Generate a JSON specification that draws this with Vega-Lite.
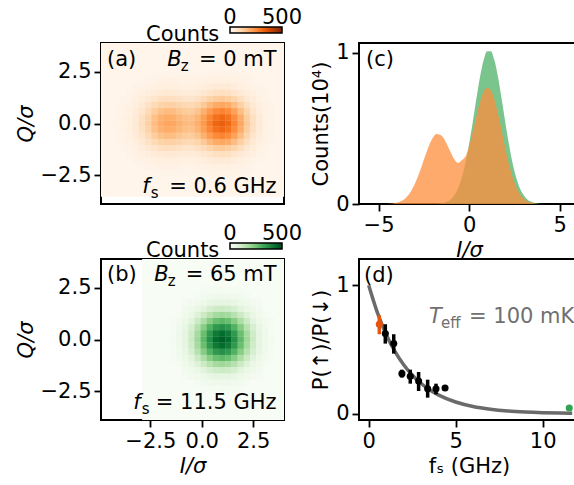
{
"$schema": "https://vega.github.io/schema/vega-lite/v6.json",
"background": "white",
"padding": {"left": 14, "top": 26, "right": 0, "bottom": 0},
"autosize": {"type": "pad"},
"config": {
  "font": "DejaVu Sans",
  "view": {"stroke": "black", "strokeWidth": 2},
  "axis": {"domain": false, "grid": false, "tickColor": "black", "tickWidth": 1.8, "tickSize": 7, "labelFontSize": 21, "titleFontSize": 21, "titleFontWeight": "normal", "labelColor": "black", "titleColor": "black", "labelPadding": 3, "titlePadding": 4, "labelFlush": false, "labelOverlap": false},
  "text": {"fontSize": 21, "color": "black"}
},
"datasets": {
"ha": [
{"i":-4.1,"q":0,"c":6},{"i":-3.8,"q":0,"c":13},{"i":-3.5,"q":0,"c":27},{"i":-3.2,"q":0,"c":50},{"i":-2.9,"q":0,"c":82},{"i":-2.6,"q":0,"c":121},{"i":-2.3,"q":0,"c":160},{"i":-2,"q":0,"c":190},{"i":-1.7,"q":0,"c":204},{"i":-1.4,"q":0,"c":199},{"i":-1.1,"q":0,"c":182},{"i":-0.8,"q":0,"c":166},{"i":-0.5,"q":0,"c":164},{"i":-0.2,"q":0,"c":186},{"i":0.1,"q":0,"c":227},{"i":0.4,"q":0,"c":277},{"i":0.7,"q":0,"c":318},{"i":1,"q":0,"c":332},{"i":1.3,"q":0,"c":313},{"i":1.6,"q":0,"c":264},{"i":1.9,"q":0,"c":200},{"i":2.2,"q":0,"c":136},{"i":2.5,"q":0,"c":82},{"i":2.8,"q":0,"c":45},{"i":3.1,"q":0,"c":22},{"i":3.4,"q":0,"c":10},
{"i":-4.1,"q":0.3,"c":5},{"i":-3.8,"q":0.3,"c":12},{"i":-3.5,"q":0.3,"c":26},{"i":-3.2,"q":0.3,"c":47},{"i":-2.9,"q":0.3,"c":78},{"i":-2.6,"q":0.3,"c":115},{"i":-2.3,"q":0.3,"c":151},{"i":-2,"q":0.3,"c":180},{"i":-1.7,"q":0.3,"c":193},{"i":-1.4,"q":0.3,"c":188},{"i":-1.1,"q":0.3,"c":172},{"i":-0.8,"q":0.3,"c":157},{"i":-0.5,"q":0.3,"c":156},{"i":-0.2,"q":0.3,"c":175},{"i":0.1,"q":0.3,"c":215},{"i":0.4,"q":0.3,"c":262},{"i":0.7,"q":0.3,"c":300},{"i":1,"q":0.3,"c":314},{"i":1.3,"q":0.3,"c":296},{"i":1.6,"q":0.3,"c":250},{"i":1.9,"q":0.3,"c":189},{"i":2.2,"q":0.3,"c":128},{"i":2.5,"q":0.3,"c":78},{"i":2.8,"q":0.3,"c":42},{"i":3.1,"q":0.3,"c":20},{"i":3.4,"q":0.3,"c":9},
{"i":-4.1,"q":-0.3,"c":5},{"i":-3.8,"q":-0.3,"c":12},{"i":-3.5,"q":-0.3,"c":26},{"i":-3.2,"q":-0.3,"c":47},{"i":-2.9,"q":-0.3,"c":78},{"i":-2.6,"q":-0.3,"c":115},{"i":-2.3,"q":-0.3,"c":151},{"i":-2,"q":-0.3,"c":180},{"i":-1.7,"q":-0.3,"c":193},{"i":-1.4,"q":-0.3,"c":188},{"i":-1.1,"q":-0.3,"c":172},{"i":-0.8,"q":-0.3,"c":157},{"i":-0.5,"q":-0.3,"c":156},{"i":-0.2,"q":-0.3,"c":175},{"i":0.1,"q":-0.3,"c":215},{"i":0.4,"q":-0.3,"c":262},{"i":0.7,"q":-0.3,"c":300},{"i":1,"q":-0.3,"c":314},{"i":1.3,"q":-0.3,"c":296},{"i":1.6,"q":-0.3,"c":250},{"i":1.9,"q":-0.3,"c":189},{"i":2.2,"q":-0.3,"c":128},{"i":2.5,"q":-0.3,"c":78},{"i":2.8,"q":-0.3,"c":42},{"i":3.1,"q":-0.3,"c":20},{"i":3.4,"q":-0.3,"c":9},
{"i":-4.1,"q":0.6,"c":5},{"i":-3.8,"q":0.6,"c":11},{"i":-3.5,"q":0.6,"c":22},{"i":-3.2,"q":0.6,"c":40},{"i":-2.9,"q":0.6,"c":66},{"i":-2.6,"q":0.6,"c":97},{"i":-2.3,"q":0.6,"c":128},{"i":-2,"q":0.6,"c":152},{"i":-1.7,"q":0.6,"c":163},{"i":-1.4,"q":0.6,"c":159},{"i":-1.1,"q":0.6,"c":146},{"i":-0.8,"q":0.6,"c":133},{"i":-0.5,"q":0.6,"c":132},{"i":-0.2,"q":0.6,"c":149},{"i":0.1,"q":0.6,"c":182},{"i":0.4,"q":0.6,"c":223},{"i":0.7,"q":0.6,"c":255},{"i":1,"q":0.6,"c":266},{"i":1.3,"q":0.6,"c":250},{"i":1.6,"q":0.6,"c":212},{"i":1.9,"q":0.6,"c":160},{"i":2.2,"q":0.6,"c":109},{"i":2.5,"q":0.6,"c":66},{"i":2.8,"q":0.6,"c":36},{"i":3.1,"q":0.6,"c":17},{"i":3.4,"q":0.6,"c":8},
{"i":-4.1,"q":-0.6,"c":5},{"i":-3.8,"q":-0.6,"c":11},{"i":-3.5,"q":-0.6,"c":22},{"i":-3.2,"q":-0.6,"c":40},{"i":-2.9,"q":-0.6,"c":66},{"i":-2.6,"q":-0.6,"c":97},{"i":-2.3,"q":-0.6,"c":128},{"i":-2,"q":-0.6,"c":152},{"i":-1.7,"q":-0.6,"c":163},{"i":-1.4,"q":-0.6,"c":159},{"i":-1.1,"q":-0.6,"c":146},{"i":-0.8,"q":-0.6,"c":133},{"i":-0.5,"q":-0.6,"c":132},{"i":-0.2,"q":-0.6,"c":149},{"i":0.1,"q":-0.6,"c":182},{"i":0.4,"q":-0.6,"c":223},{"i":0.7,"q":-0.6,"c":255},{"i":1,"q":-0.6,"c":266},{"i":1.3,"q":-0.6,"c":250},{"i":1.6,"q":-0.6,"c":212},{"i":1.9,"q":-0.6,"c":160},{"i":2.2,"q":-0.6,"c":109},{"i":2.5,"q":-0.6,"c":66},{"i":2.8,"q":-0.6,"c":36},{"i":3.1,"q":-0.6,"c":17},{"i":3.4,"q":-0.6,"c":8},
{"i":-4.1,"q":0.9,"c":3},{"i":-3.8,"q":0.9,"c":8},{"i":-3.5,"q":0.9,"c":16},{"i":-3.2,"q":0.9,"c":30},{"i":-2.9,"q":0.9,"c":50},{"i":-2.6,"q":0.9,"c":74},{"i":-2.3,"q":0.9,"c":97},{"i":-2,"q":0.9,"c":116},{"i":-1.7,"q":0.9,"c":123},{"i":-1.4,"q":0.9,"c":121},{"i":-1.1,"q":0.9,"c":110},{"i":-0.8,"q":0.9,"c":101},{"i":-0.5,"q":0.9,"c":100},{"i":-0.2,"q":0.9,"c":112},{"i":0.1,"q":0.9,"c":137},{"i":0.4,"q":0.9,"c":168},{"i":0.7,"q":0.9,"c":192},{"i":1,"q":0.9,"c":201},{"i":1.3,"q":0.9,"c":189},{"i":1.6,"q":0.9,"c":160},{"i":1.9,"q":0.9,"c":121},{"i":2.2,"q":0.9,"c":82},{"i":2.5,"q":0.9,"c":50},{"i":2.8,"q":0.9,"c":27},{"i":3.1,"q":0.9,"c":13},{"i":3.4,"q":0.9,"c":6},
{"i":-4.1,"q":-0.9,"c":3},{"i":-3.8,"q":-0.9,"c":8},{"i":-3.5,"q":-0.9,"c":16},{"i":-3.2,"q":-0.9,"c":30},{"i":-2.9,"q":-0.9,"c":50},{"i":-2.6,"q":-0.9,"c":74},{"i":-2.3,"q":-0.9,"c":97},{"i":-2,"q":-0.9,"c":116},{"i":-1.7,"q":-0.9,"c":123},{"i":-1.4,"q":-0.9,"c":121},{"i":-1.1,"q":-0.9,"c":110},{"i":-0.8,"q":-0.9,"c":101},{"i":-0.5,"q":-0.9,"c":100},{"i":-0.2,"q":-0.9,"c":112},{"i":0.1,"q":-0.9,"c":137},{"i":0.4,"q":-0.9,"c":168},{"i":0.7,"q":-0.9,"c":192},{"i":1,"q":-0.9,"c":201},{"i":1.3,"q":-0.9,"c":189},{"i":1.6,"q":-0.9,"c":160},{"i":1.9,"q":-0.9,"c":121},{"i":2.2,"q":-0.9,"c":82},{"i":2.5,"q":-0.9,"c":50},{"i":2.8,"q":-0.9,"c":27},{"i":3.1,"q":-0.9,"c":13},{"i":3.4,"q":-0.9,"c":6},
{"i":-3.8,"q":1.2,"c":5},{"i":-3.5,"q":1.2,"c":11},{"i":-3.2,"q":1.2,"c":20},{"i":-2.9,"q":1.2,"c":34},{"i":-2.6,"q":1.2,"c":50},{"i":-2.3,"q":1.2,"c":66},{"i":-2,"q":1.2,"c":78},{"i":-1.7,"q":1.2,"c":84},{"i":-1.4,"q":1.2,"c":82},{"i":-1.1,"q":1.2,"c":75},{"i":-0.8,"q":1.2,"c":68},{"i":-0.5,"q":1.2,"c":68},{"i":-0.2,"q":1.2,"c":76},{"i":0.1,"q":1.2,"c":93},{"i":0.4,"q":1.2,"c":114},{"i":0.7,"q":1.2,"c":130},{"i":1,"q":1.2,"c":136},{"i":1.3,"q":1.2,"c":128},{"i":1.6,"q":1.2,"c":109},{"i":1.9,"q":1.2,"c":82},{"i":2.2,"q":1.2,"c":56},{"i":2.5,"q":1.2,"c":34},{"i":2.8,"q":1.2,"c":18},{"i":3.1,"q":1.2,"c":9},
{"i":-3.8,"q":-1.2,"c":5},{"i":-3.5,"q":-1.2,"c":11},{"i":-3.2,"q":-1.2,"c":20},{"i":-2.9,"q":-1.2,"c":34},{"i":-2.6,"q":-1.2,"c":50},{"i":-2.3,"q":-1.2,"c":66},{"i":-2,"q":-1.2,"c":78},{"i":-1.7,"q":-1.2,"c":84},{"i":-1.4,"q":-1.2,"c":82},{"i":-1.1,"q":-1.2,"c":75},{"i":-0.8,"q":-1.2,"c":68},{"i":-0.5,"q":-1.2,"c":68},{"i":-0.2,"q":-1.2,"c":76},{"i":0.1,"q":-1.2,"c":93},{"i":0.4,"q":-1.2,"c":114},{"i":0.7,"q":-1.2,"c":130},{"i":1,"q":-1.2,"c":136},{"i":1.3,"q":-1.2,"c":128},{"i":1.6,"q":-1.2,"c":109},{"i":1.9,"q":-1.2,"c":82},{"i":2.2,"q":-1.2,"c":56},{"i":2.5,"q":-1.2,"c":34},{"i":2.8,"q":-1.2,"c":18},{"i":3.1,"q":-1.2,"c":9},
{"i":-3.5,"q":1.5,"c":7},{"i":-3.2,"q":1.5,"c":12},{"i":-2.9,"q":1.5,"c":20},{"i":-2.6,"q":1.5,"c":30},{"i":-2.3,"q":1.5,"c":40},{"i":-2,"q":1.5,"c":47},{"i":-1.7,"q":1.5,"c":51},{"i":-1.4,"q":1.5,"c":49},{"i":-1.1,"q":1.5,"c":45},{"i":-0.8,"q":1.5,"c":41},{"i":-0.5,"q":1.5,"c":40},{"i":-0.2,"q":1.5,"c":46},{"i":0.1,"q":1.5,"c":57},{"i":0.4,"q":1.5,"c":69},{"i":0.7,"q":1.5,"c":79},{"i":1,"q":1.5,"c":82},{"i":1.3,"q":1.5,"c":78},{"i":1.6,"q":1.5,"c":66},{"i":1.9,"q":1.5,"c":50},{"i":2.2,"q":1.5,"c":34},{"i":2.5,"q":1.5,"c":20},{"i":2.8,"q":1.5,"c":11},{"i":3.1,"q":1.5,"c":5},
{"i":-3.5,"q":-1.5,"c":7},{"i":-3.2,"q":-1.5,"c":12},{"i":-2.9,"q":-1.5,"c":20},{"i":-2.6,"q":-1.5,"c":30},{"i":-2.3,"q":-1.5,"c":40},{"i":-2,"q":-1.5,"c":47},{"i":-1.7,"q":-1.5,"c":51},{"i":-1.4,"q":-1.5,"c":49},{"i":-1.1,"q":-1.5,"c":45},{"i":-0.8,"q":-1.5,"c":41},{"i":-0.5,"q":-1.5,"c":40},{"i":-0.2,"q":-1.5,"c":46},{"i":0.1,"q":-1.5,"c":57},{"i":0.4,"q":-1.5,"c":69},{"i":0.7,"q":-1.5,"c":79},{"i":1,"q":-1.5,"c":82},{"i":1.3,"q":-1.5,"c":78},{"i":1.6,"q":-1.5,"c":66},{"i":1.9,"q":-1.5,"c":50},{"i":2.2,"q":-1.5,"c":34},{"i":2.5,"q":-1.5,"c":20},{"i":2.8,"q":-1.5,"c":11},{"i":3.1,"q":-1.5,"c":5},
{"i":-3.2,"q":1.8,"c":7},{"i":-2.9,"q":1.8,"c":11},{"i":-2.6,"q":1.8,"c":16},{"i":-2.3,"q":1.8,"c":22},{"i":-2,"q":1.8,"c":26},{"i":-1.7,"q":1.8,"c":27},{"i":-1.4,"q":1.8,"c":27},{"i":-1.1,"q":1.8,"c":25},{"i":-0.8,"q":1.8,"c":22},{"i":-0.5,"q":1.8,"c":22},{"i":-0.2,"q":1.8,"c":25},{"i":0.1,"q":1.8,"c":31},{"i":0.4,"q":1.8,"c":38},{"i":0.7,"q":1.8,"c":43},{"i":1,"q":1.8,"c":45},{"i":1.3,"q":1.8,"c":42},{"i":1.6,"q":1.8,"c":36},{"i":1.9,"q":1.8,"c":27},{"i":2.2,"q":1.8,"c":18},{"i":2.5,"q":1.8,"c":11},{"i":2.8,"q":1.8,"c":6},
{"i":-3.2,"q":-1.8,"c":7},{"i":-2.9,"q":-1.8,"c":11},{"i":-2.6,"q":-1.8,"c":16},{"i":-2.3,"q":-1.8,"c":22},{"i":-2,"q":-1.8,"c":26},{"i":-1.7,"q":-1.8,"c":27},{"i":-1.4,"q":-1.8,"c":27},{"i":-1.1,"q":-1.8,"c":25},{"i":-0.8,"q":-1.8,"c":22},{"i":-0.5,"q":-1.8,"c":22},{"i":-0.2,"q":-1.8,"c":25},{"i":0.1,"q":-1.8,"c":31},{"i":0.4,"q":-1.8,"c":38},{"i":0.7,"q":-1.8,"c":43},{"i":1,"q":-1.8,"c":45},{"i":1.3,"q":-1.8,"c":42},{"i":1.6,"q":-1.8,"c":36},{"i":1.9,"q":-1.8,"c":27},{"i":2.2,"q":-1.8,"c":18},{"i":2.5,"q":-1.8,"c":11},{"i":2.8,"q":-1.8,"c":6},
{"i":-2.9,"q":2.1,"c":5},{"i":-2.6,"q":2.1,"c":8},{"i":-2.3,"q":2.1,"c":11},{"i":-2,"q":2.1,"c":12},{"i":-1.7,"q":2.1,"c":13},{"i":-1.4,"q":2.1,"c":13},{"i":-1.1,"q":2.1,"c":12},{"i":-0.8,"q":2.1,"c":11},{"i":-0.5,"q":2.1,"c":10},{"i":-0.2,"q":2.1,"c":12},{"i":0.1,"q":2.1,"c":15},{"i":0.4,"q":2.1,"c":18},{"i":0.7,"q":2.1,"c":21},{"i":1,"q":2.1,"c":22},{"i":1.3,"q":2.1,"c":20},{"i":1.6,"q":2.1,"c":17},{"i":1.9,"q":2.1,"c":13},{"i":2.2,"q":2.1,"c":9},{"i":2.5,"q":2.1,"c":5},
{"i":-2.9,"q":-2.1,"c":5},{"i":-2.6,"q":-2.1,"c":8},{"i":-2.3,"q":-2.1,"c":11},{"i":-2,"q":-2.1,"c":12},{"i":-1.7,"q":-2.1,"c":13},{"i":-1.4,"q":-2.1,"c":13},{"i":-1.1,"q":-2.1,"c":12},{"i":-0.8,"q":-2.1,"c":11},{"i":-0.5,"q":-2.1,"c":10},{"i":-0.2,"q":-2.1,"c":12},{"i":0.1,"q":-2.1,"c":15},{"i":0.4,"q":-2.1,"c":18},{"i":0.7,"q":-2.1,"c":21},{"i":1,"q":-2.1,"c":22},{"i":1.3,"q":-2.1,"c":20},{"i":1.6,"q":-2.1,"c":17},{"i":1.9,"q":-2.1,"c":13},{"i":2.2,"q":-2.1,"c":9},{"i":2.5,"q":-2.1,"c":5},
{"i":-2.3,"q":2.4,"c":5},{"i":-2,"q":2.4,"c":5},{"i":-1.7,"q":2.4,"c":6},{"i":-1.4,"q":2.4,"c":5},{"i":-1.1,"q":2.4,"c":5},{"i":-0.8,"q":2.4,"c":4},{"i":-0.5,"q":2.4,"c":4},{"i":-0.2,"q":2.4,"c":5},{"i":0.1,"q":2.4,"c":6},{"i":0.4,"q":2.4,"c":8},{"i":0.7,"q":2.4,"c":9},{"i":1,"q":2.4,"c":10},{"i":1.3,"q":2.4,"c":9},{"i":1.6,"q":2.4,"c":8},{"i":1.9,"q":2.4,"c":6},{"i":2.2,"q":2.4,"c":5},
{"i":-2.3,"q":-2.4,"c":5},{"i":-2,"q":-2.4,"c":5},{"i":-1.7,"q":-2.4,"c":6},{"i":-1.4,"q":-2.4,"c":5},{"i":-1.1,"q":-2.4,"c":5},{"i":-0.8,"q":-2.4,"c":4},{"i":-0.5,"q":-2.4,"c":4},{"i":-0.2,"q":-2.4,"c":5},{"i":0.1,"q":-2.4,"c":6},{"i":0.4,"q":-2.4,"c":8},{"i":0.7,"q":-2.4,"c":9},{"i":1,"q":-2.4,"c":10},{"i":1.3,"q":-2.4,"c":9},{"i":1.6,"q":-2.4,"c":8},{"i":1.9,"q":-2.4,"c":6},{"i":2.2,"q":-2.4,"c":5}
],
"hb": [
{"i":-1.4,"q":0,"c":13},{"i":-1.1,"q":0,"c":30},{"i":-0.8,"q":0,"c":62},{"i":-0.5,"q":0,"c":115},{"i":-0.2,"q":0,"c":189},{"i":0.1,"q":0,"c":279},{"i":0.4,"q":0,"c":368},{"i":0.7,"q":0,"c":435},{"i":1,"q":0,"c":460},{"i":1.3,"q":0,"c":435},{"i":1.6,"q":0,"c":368},{"i":1.9,"q":0,"c":279},{"i":2.2,"q":0,"c":189},{"i":2.5,"q":0,"c":115},{"i":2.8,"q":0,"c":62},{"i":3.1,"q":0,"c":30},{"i":3.4,"q":0,"c":13},
{"i":-1.4,"q":0.3,"c":12},{"i":-1.1,"q":0.3,"c":29},{"i":-0.8,"q":0.3,"c":59},{"i":-0.5,"q":0.3,"c":109},{"i":-0.2,"q":0.3,"c":179},{"i":0.1,"q":0.3,"c":264},{"i":0.4,"q":0.3,"c":348},{"i":0.7,"q":0.3,"c":412},{"i":1,"q":0.3,"c":435},{"i":1.3,"q":0.3,"c":412},{"i":1.6,"q":0.3,"c":348},{"i":1.9,"q":0.3,"c":264},{"i":2.2,"q":0.3,"c":179},{"i":2.5,"q":0.3,"c":109},{"i":2.8,"q":0.3,"c":59},{"i":3.1,"q":0.3,"c":29},{"i":3.4,"q":0.3,"c":12},
{"i":-1.4,"q":-0.3,"c":12},{"i":-1.1,"q":-0.3,"c":29},{"i":-0.8,"q":-0.3,"c":59},{"i":-0.5,"q":-0.3,"c":109},{"i":-0.2,"q":-0.3,"c":179},{"i":0.1,"q":-0.3,"c":264},{"i":0.4,"q":-0.3,"c":348},{"i":0.7,"q":-0.3,"c":412},{"i":1,"q":-0.3,"c":435},{"i":1.3,"q":-0.3,"c":412},{"i":1.6,"q":-0.3,"c":348},{"i":1.9,"q":-0.3,"c":264},{"i":2.2,"q":-0.3,"c":179},{"i":2.5,"q":-0.3,"c":109},{"i":2.8,"q":-0.3,"c":59},{"i":3.1,"q":-0.3,"c":29},{"i":3.4,"q":-0.3,"c":12},
{"i":-1.4,"q":0.6,"c":11},{"i":-1.1,"q":0.6,"c":24},{"i":-0.8,"q":0.6,"c":50},{"i":-0.5,"q":0.6,"c":92},{"i":-0.2,"q":0.6,"c":151},{"i":0.1,"q":0.6,"c":224},{"i":0.4,"q":0.6,"c":295},{"i":0.7,"q":0.6,"c":348},{"i":1,"q":0.6,"c":368},{"i":1.3,"q":0.6,"c":348},{"i":1.6,"q":0.6,"c":295},{"i":1.9,"q":0.6,"c":224},{"i":2.2,"q":0.6,"c":151},{"i":2.5,"q":0.6,"c":92},{"i":2.8,"q":0.6,"c":50},{"i":3.1,"q":0.6,"c":24},{"i":3.4,"q":0.6,"c":11},
{"i":-1.4,"q":-0.6,"c":11},{"i":-1.1,"q":-0.6,"c":24},{"i":-0.8,"q":-0.6,"c":50},{"i":-0.5,"q":-0.6,"c":92},{"i":-0.2,"q":-0.6,"c":151},{"i":0.1,"q":-0.6,"c":224},{"i":0.4,"q":-0.6,"c":295},{"i":0.7,"q":-0.6,"c":348},{"i":1,"q":-0.6,"c":368},{"i":1.3,"q":-0.6,"c":348},{"i":1.6,"q":-0.6,"c":295},{"i":1.9,"q":-0.6,"c":224},{"i":2.2,"q":-0.6,"c":151},{"i":2.5,"q":-0.6,"c":92},{"i":2.8,"q":-0.6,"c":50},{"i":3.1,"q":-0.6,"c":24},{"i":3.4,"q":-0.6,"c":11},
{"i":-1.4,"q":0.9,"c":8},{"i":-1.1,"q":0.9,"c":18},{"i":-0.8,"q":0.9,"c":38},{"i":-0.5,"q":0.9,"c":69},{"i":-0.2,"q":0.9,"c":115},{"i":0.1,"q":0.9,"c":169},{"i":0.4,"q":0.9,"c":224},{"i":0.7,"q":0.9,"c":264},{"i":1,"q":0.9,"c":279},{"i":1.3,"q":0.9,"c":264},{"i":1.6,"q":0.9,"c":224},{"i":1.9,"q":0.9,"c":169},{"i":2.2,"q":0.9,"c":115},{"i":2.5,"q":0.9,"c":69},{"i":2.8,"q":0.9,"c":38},{"i":3.1,"q":0.9,"c":18},{"i":3.4,"q":0.9,"c":8},
{"i":-1.4,"q":-0.9,"c":8},{"i":-1.1,"q":-0.9,"c":18},{"i":-0.8,"q":-0.9,"c":38},{"i":-0.5,"q":-0.9,"c":69},{"i":-0.2,"q":-0.9,"c":115},{"i":0.1,"q":-0.9,"c":169},{"i":0.4,"q":-0.9,"c":224},{"i":0.7,"q":-0.9,"c":264},{"i":1,"q":-0.9,"c":279},{"i":1.3,"q":-0.9,"c":264},{"i":1.6,"q":-0.9,"c":224},{"i":1.9,"q":-0.9,"c":169},{"i":2.2,"q":-0.9,"c":115},{"i":2.5,"q":-0.9,"c":69},{"i":2.8,"q":-0.9,"c":38},{"i":3.1,"q":-0.9,"c":18},{"i":3.4,"q":-0.9,"c":8},
{"i":-1.1,"q":1.2,"c":12},{"i":-0.8,"q":1.2,"c":26},{"i":-0.5,"q":1.2,"c":47},{"i":-0.2,"q":1.2,"c":78},{"i":0.1,"q":1.2,"c":115},{"i":0.4,"q":1.2,"c":151},{"i":0.7,"q":1.2,"c":179},{"i":1,"q":1.2,"c":189},{"i":1.3,"q":1.2,"c":179},{"i":1.6,"q":1.2,"c":151},{"i":1.9,"q":1.2,"c":115},{"i":2.2,"q":1.2,"c":78},{"i":2.5,"q":1.2,"c":47},{"i":2.8,"q":1.2,"c":26},{"i":3.1,"q":1.2,"c":12},
{"i":-1.1,"q":-1.2,"c":12},{"i":-0.8,"q":-1.2,"c":26},{"i":-0.5,"q":-1.2,"c":47},{"i":-0.2,"q":-1.2,"c":78},{"i":0.1,"q":-1.2,"c":115},{"i":0.4,"q":-1.2,"c":151},{"i":0.7,"q":-1.2,"c":179},{"i":1,"q":-1.2,"c":189},{"i":1.3,"q":-1.2,"c":179},{"i":1.6,"q":-1.2,"c":151},{"i":1.9,"q":-1.2,"c":115},{"i":2.2,"q":-1.2,"c":78},{"i":2.5,"q":-1.2,"c":47},{"i":2.8,"q":-1.2,"c":26},{"i":3.1,"q":-1.2,"c":12},
{"i":-0.8,"q":1.5,"c":16},{"i":-0.5,"q":1.5,"c":29},{"i":-0.2,"q":1.5,"c":47},{"i":0.1,"q":1.5,"c":69},{"i":0.4,"q":1.5,"c":92},{"i":0.7,"q":1.5,"c":109},{"i":1,"q":1.5,"c":115},{"i":1.3,"q":1.5,"c":109},{"i":1.6,"q":1.5,"c":92},{"i":1.9,"q":1.5,"c":69},{"i":2.2,"q":1.5,"c":47},{"i":2.5,"q":1.5,"c":29},{"i":2.8,"q":1.5,"c":16},
{"i":-0.8,"q":-1.5,"c":16},{"i":-0.5,"q":-1.5,"c":29},{"i":-0.2,"q":-1.5,"c":47},{"i":0.1,"q":-1.5,"c":69},{"i":0.4,"q":-1.5,"c":92},{"i":0.7,"q":-1.5,"c":109},{"i":1,"q":-1.5,"c":115},{"i":1.3,"q":-1.5,"c":109},{"i":1.6,"q":-1.5,"c":92},{"i":1.9,"q":-1.5,"c":69},{"i":2.2,"q":-1.5,"c":47},{"i":2.5,"q":-1.5,"c":29},{"i":2.8,"q":-1.5,"c":16},
{"i":-0.8,"q":1.8,"c":8},{"i":-0.5,"q":1.8,"c":16},{"i":-0.2,"q":1.8,"c":26},{"i":0.1,"q":1.8,"c":38},{"i":0.4,"q":1.8,"c":50},{"i":0.7,"q":1.8,"c":59},{"i":1,"q":1.8,"c":62},{"i":1.3,"q":1.8,"c":59},{"i":1.6,"q":1.8,"c":50},{"i":1.9,"q":1.8,"c":38},{"i":2.2,"q":1.8,"c":26},{"i":2.5,"q":1.8,"c":16},{"i":2.8,"q":1.8,"c":8},
{"i":-0.8,"q":-1.8,"c":8},{"i":-0.5,"q":-1.8,"c":16},{"i":-0.2,"q":-1.8,"c":26},{"i":0.1,"q":-1.8,"c":38},{"i":0.4,"q":-1.8,"c":50},{"i":0.7,"q":-1.8,"c":59},{"i":1,"q":-1.8,"c":62},{"i":1.3,"q":-1.8,"c":59},{"i":1.6,"q":-1.8,"c":50},{"i":1.9,"q":-1.8,"c":38},{"i":2.2,"q":-1.8,"c":26},{"i":2.5,"q":-1.8,"c":16},{"i":2.8,"q":-1.8,"c":8},
{"i":-0.2,"q":2.1,"c":12},{"i":0.1,"q":2.1,"c":18},{"i":0.4,"q":2.1,"c":24},{"i":0.7,"q":2.1,"c":29},{"i":1,"q":2.1,"c":30},{"i":1.3,"q":2.1,"c":29},{"i":1.6,"q":2.1,"c":24},{"i":1.9,"q":2.1,"c":18},{"i":2.2,"q":2.1,"c":12},
{"i":-0.2,"q":-2.1,"c":12},{"i":0.1,"q":-2.1,"c":18},{"i":0.4,"q":-2.1,"c":24},{"i":0.7,"q":-2.1,"c":29},{"i":1,"q":-2.1,"c":30},{"i":1.3,"q":-2.1,"c":29},{"i":1.6,"q":-2.1,"c":24},{"i":1.9,"q":-2.1,"c":18},{"i":2.2,"q":-2.1,"c":12},
{"i":0.1,"q":2.4,"c":8},{"i":0.4,"q":2.4,"c":11},{"i":0.7,"q":2.4,"c":12},{"i":1,"q":2.4,"c":13},{"i":1.3,"q":2.4,"c":12},{"i":1.6,"q":2.4,"c":11},{"i":1.9,"q":2.4,"c":8},
{"i":0.1,"q":-2.4,"c":8},{"i":0.4,"q":-2.4,"c":11},{"i":0.7,"q":-2.4,"c":12},{"i":1,"q":-2.4,"c":13},{"i":1.3,"q":-2.4,"c":12},{"i":1.6,"q":-2.4,"c":11},{"i":1.9,"q":-2.4,"c":8}
],
"co": [
{"x":-4.6,"y":0},{"x":-4.4,"y":0.002},{"x":-4.2,"y":0.004},{"x":-4.0,"y":0.008},{"x":-3.8,"y":0.016},{"x":-3.6,"y":0.03},{"x":-3.4,"y":0.053},{"x":-3.2,"y":0.086},{"x":-3.0,"y":0.132},{"x":-2.8,"y":0.19},{"x":-2.6,"y":0.257},{"x":-2.4,"y":0.327},{"x":-2.2,"y":0.391},{"x":-2.0,"y":0.439},{"x":-1.8,"y":0.463},{"x":-1.6,"y":0.459},{"x":-1.4,"y":0.435},{"x":-1.2,"y":0.389},{"x":-1.0,"y":0.338},{"x":-0.8,"y":0.293},{"x":-0.6,"y":0.272},{"x":-0.4,"y":0.291},{"x":-0.2,"y":0.315},{"x":0.0,"y":0.381},{"x":0.2,"y":0.475},{"x":0.4,"y":0.578},{"x":0.6,"y":0.673},{"x":0.8,"y":0.742},{"x":1.0,"y":0.77},{"x":1.2,"y":0.753},{"x":1.4,"y":0.692},{"x":1.6,"y":0.597},{"x":1.8,"y":0.485},{"x":2.0,"y":0.369},{"x":2.2,"y":0.264},{"x":2.4,"y":0.178},{"x":2.6,"y":0.112},{"x":2.8,"y":0.067},{"x":3.0,"y":0.037},{"x":3.2,"y":0.019},{"x":3.4,"y":0.01},{"x":3.6,"y":0.004},{"x":3.8,"y":0.002},{"x":4.0,"y":0}
],
"cg": [
{"x":-1.8,"y":0},{"x":-1.6,"y":0.003},{"x":-1.4,"y":0.008},{"x":-1.2,"y":0.016},{"x":-1.0,"y":0.032},{"x":-0.8,"y":0.061},{"x":-0.6,"y":0.106},{"x":-0.4,"y":0.176},{"x":-0.2,"y":0.272},{"x":0.0,"y":0.397},{"x":0.2,"y":0.542},{"x":0.4,"y":0.696},{"x":0.6,"y":0.839},{"x":0.8,"y":0.951},{"x":1.0,"y":1.012},{"x":1.2,"y":1.012},{"x":1.4,"y":0.951},{"x":1.6,"y":0.839},{"x":1.8,"y":0.696},{"x":2.0,"y":0.542},{"x":2.2,"y":0.397},{"x":2.4,"y":0.272},{"x":2.6,"y":0.176},{"x":2.8,"y":0.106},{"x":3.0,"y":0.061},{"x":3.2,"y":0.032},{"x":3.4,"y":0.016},{"x":3.6,"y":0.008},{"x":3.8,"y":0.003},{"x":4.0,"y":0}
],
"dc": [
{"f":0,"p":1},{"f":0.5,"p":0.787},{"f":1,"p":0.619},{"f":1.5,"p":0.487},{"f":2,"p":0.383},{"f":2.5,"p":0.301},{"f":3,"p":0.237},{"f":3.5,"p":0.186},{"f":4,"p":0.147},{"f":5,"p":0.091},{"f":6,"p":0.056},{"f":7,"p":0.035},{"f":8,"p":0.0215},{"f":9,"p":0.0133},{"f":10,"p":0.0082},{"f":11,"p":0.0051},{"f":11.7,"p":0.0036}
],
"dp": [
{"f":0.61,"p":0.697,"lo":0.619,"hi":0.767,"k":"o"},
{"f":0.955,"p":0.624,"lo":0.546,"hi":0.697,"k":"b"},
{"f":1.44,"p":0.546,"lo":0.468,"hi":0.619,"k":"b"},
{"f":1.91,"p":0.312,"lo":0.281,"hi":0.343,"k":"b"},
{"f":2.39,"p":0.291,"lo":0.234,"hi":0.343,"k":"b"},
{"f":2.87,"p":0.255,"lo":0.177,"hi":0.325,"k":"b"},
{"f":3.39,"p":0.195,"lo":0.125,"hi":0.265,"k":"b"},
{"f":3.87,"p":0.195,"lo":0.151,"hi":0.234,"k":"b"},
{"f":4.39,"p":0.2,"lo":0.18,"hi":0.22,"k":"b"},
{"f":11.53,"p":0.044,"lo":0.034,"hi":0.054,"k":"g"}
]
},
"columns": 2,
"bounds": "flush",
"spacing": {"row": 55, "column": 75},
"resolve": {"scale": {"color": "independent", "x": "independent", "y": "independent"}, "legend": {"color": "independent"}},
"concat": [
{
 "width": 183, "height": 161,
 "layer": [
  {"data": {"values": [{}]}, "mark": {"type": "rect", "color": "#fff5eb"},
   "encoding": {"x": {"datum": -4.9, "type": "quantitative", "axis": null}, "x2": {"datum": 4.0}, "y": {"datum": -3.55, "type": "quantitative"}, "y2": {"datum": 3.9}}},
  {"data": {"name": "ha"}, "mark": {"type": "rect", "width": 6.5, "height": 6.5},
   "encoding": {
    "x": {"field": "i", "type": "quantitative", "scale": {"domain": [-4.9, 4.0], "nice": false, "zero": false}, "axis": null},
    "y": {"field": "q", "type": "quantitative", "scale": {"domain": [-3.9, 3.9], "nice": false, "zero": false}, "axis": {"values": [-2.5, 0, 2.5], "format": ".1f", "title": "Q/σ", "titleFontStyle": "italic"}},
    "color": {"field": "c", "type": "quantitative", "scale": {"domain": [0, 62.5, 125, 187.5, 250, 312.5, 375, 437.5, 500], "range": ["#fff5eb", "#fee6ce", "#fdd0a2", "#fdae6b", "#fd8d3c", "#f16913", "#d94801", "#a63603", "#7f2704"]},
      "legend": {"orient": "none", "legendX": 45, "legendY": -16, "direction": "horizontal", "gradientLength": 52, "gradientThickness": 6, "title": "Counts", "titleOrient": "left", "titleFontSize": 21, "titleFontWeight": "normal", "titleColor": "black", "titlePadding": 10, "values": [0, 500], "labelFontSize": 21, "labelColor": "black", "labelOverlap": false, "gradientStrokeColor": "black", "gradientStrokeWidth": 1.5,
        "encode": {"labels": {"update": {"align": {"value": "center"}, "baseline": {"value": "alphabetic"}, "y": {"value": -3}}}, "title": {"update": {"dy": {"value": 5}}}}}}
   }},
  {"data": {"values": [{}]}, "mark": {"type": "text", "text": "(a)", "align": "left", "baseline": "middle"}, "encoding": {"x": {"datum": -4.61, "axis": null}, "y": {"datum": 3.06}}},
  {"data": {"values": [{}]}, "mark": {"type": "text", "text": "B", "align": "right", "baseline": "middle", "fontStyle": "italic", "dx": -95}, "encoding": {"x": {"datum": 3.64, "axis": null}, "y": {"datum": 3.06}}},
  {"data": {"values": [{}]}, "mark": {"type": "text", "text": "z", "align": "right", "baseline": "middle", "fontSize": 15, "dx": -88, "dy": 6}, "encoding": {"x": {"datum": 3.64, "axis": null}, "y": {"datum": 3.06}}},
  {"data": {"values": [{}]}, "mark": {"type": "text", "text": "= 0 mT", "align": "right", "baseline": "middle"}, "encoding": {"x": {"datum": 3.64, "axis": null}, "y": {"datum": 3.06}}},
  {"data": {"values": [{}]}, "mark": {"type": "text", "text": "f", "align": "right", "baseline": "middle", "fontStyle": "italic", "dx": -127}, "encoding": {"x": {"datum": 3.64, "axis": null}, "y": {"datum": -3.06}}},
  {"data": {"values": [{}]}, "mark": {"type": "text", "text": "s", "align": "right", "baseline": "middle", "fontSize": 15, "dx": -118, "dy": 6}, "encoding": {"x": {"datum": 3.64, "axis": null}, "y": {"datum": -3.06}}},
  {"data": {"values": [{}]}, "mark": {"type": "text", "text": "= 0.6 GHz", "align": "right", "baseline": "middle"}, "encoding": {"x": {"datum": 3.64, "axis": null}, "y": {"datum": -3.06}}}
 ]
},
{
 "width": 220, "height": 161,
 "layer": [
  {"data": {"name": "cg"}, "mark": {"type": "area", "interpolate": "monotone", "color": "#41ab5d", "opacity": 0.7},
   "encoding": {
    "x": {"field": "x", "type": "quantitative", "scale": {"domain": [-6.08, 6.07], "nice": false, "zero": false}, "axis": {"values": [-5, 0, 5], "title": "I/σ", "titleFontStyle": "italic"}},
    "y": {"field": "y", "type": "quantitative", "scale": {"domain": [0, 1.066], "nice": false}, "axis": {"values": [0, 1], "format": "d", "title": "Counts(10⁴)"}}}},
  {"data": {"name": "co"}, "mark": {"type": "area", "interpolate": "monotone", "color": "#fd8d3c", "opacity": 0.75},
   "encoding": {
    "x": {"field": "x", "type": "quantitative", "axis": {"values": [-5, 0, 5], "title": "I/σ", "titleFontStyle": "italic"}},
    "y": {"field": "y", "type": "quantitative", "axis": {"values": [0, 1], "format": "d", "title": "Counts(10⁴)"}}}},
  {"data": {"values": [{}]}, "mark": {"type": "text", "text": "(c)", "align": "left", "baseline": "middle"}, "encoding": {"x": {"datum": -5.69}, "y": {"datum": 0.954}}}
 ]
},
{
 "width": 183, "height": 161,
 "layer": [
  {"data": {"values": [{}]}, "mark": {"type": "rect", "color": "#f7fcf5"},
   "encoding": {"x": {"datum": -2.9, "type": "quantitative"}, "x2": {"datum": 4.0}, "y": {"datum": -3.9, "type": "quantitative"}, "y2": {"datum": 3.9}}},
  {"data": {"name": "hb"}, "mark": {"type": "rect", "width": 6.5, "height": 6.5},
   "encoding": {
    "x": {"field": "i", "type": "quantitative", "scale": {"domain": [-4.9, 4.0], "nice": false, "zero": false}, "axis": {"values": [-2.5, 0, 2.5], "format": ".1f", "title": "I/σ", "titleFontStyle": "italic"}},
    "y": {"field": "q", "type": "quantitative", "scale": {"domain": [-3.9, 3.9], "nice": false, "zero": false}, "axis": {"values": [-2.5, 0, 2.5], "format": ".1f", "title": "Q/σ", "titleFontStyle": "italic"}},
    "color": {"field": "c", "type": "quantitative", "scale": {"domain": [0, 62.5, 125, 187.5, 250, 312.5, 375, 437.5, 500], "range": ["#f7fcf5", "#e5f5e0", "#c7e9c0", "#a1d99b", "#74c476", "#41ab5d", "#238b45", "#006d2c", "#00441b"]},
      "legend": {"orient": "none", "legendX": 45, "legendY": -16, "direction": "horizontal", "gradientLength": 52, "gradientThickness": 6, "title": "Counts", "titleOrient": "left", "titleFontSize": 21, "titleFontWeight": "normal", "titleColor": "black", "titlePadding": 10, "values": [0, 500], "labelFontSize": 21, "labelColor": "black", "labelOverlap": false, "gradientStrokeColor": "black", "gradientStrokeWidth": 1.5,
        "encode": {"labels": {"update": {"align": {"value": "center"}, "baseline": {"value": "alphabetic"}, "y": {"value": -3}}}, "title": {"update": {"dy": {"value": 5}}}}}}
   }},
  {"data": {"values": [{}]}, "mark": {"type": "text", "text": "(b)", "align": "left", "baseline": "middle"}, "encoding": {"x": {"datum": -4.61}, "y": {"datum": 3.14}}},
  {"data": {"values": [{}]}, "mark": {"type": "text", "text": "B", "align": "right", "baseline": "middle", "fontStyle": "italic", "dx": -108}, "encoding": {"x": {"datum": 3.64}, "y": {"datum": 3.14}}},
  {"data": {"values": [{}]}, "mark": {"type": "text", "text": "z", "align": "right", "baseline": "middle", "fontSize": 15, "dx": -101, "dy": 6}, "encoding": {"x": {"datum": 3.64}, "y": {"datum": 3.14}}},
  {"data": {"values": [{}]}, "mark": {"type": "text", "text": "= 65 mT", "align": "right", "baseline": "middle"}, "encoding": {"x": {"datum": 3.64}, "y": {"datum": 3.14}}},
  {"data": {"values": [{}]}, "mark": {"type": "text", "text": "f", "align": "right", "baseline": "middle", "fontStyle": "italic", "dx": -136}, "encoding": {"x": {"datum": 3.64}, "y": {"datum": -3.07}}},
  {"data": {"values": [{}]}, "mark": {"type": "text", "text": "s", "align": "right", "baseline": "middle", "fontSize": 15, "dx": -127, "dy": 6}, "encoding": {"x": {"datum": 3.64}, "y": {"datum": -3.07}}},
  {"data": {"values": [{}]}, "mark": {"type": "text", "text": "= 11.5 GHz", "align": "right", "baseline": "middle"}, "encoding": {"x": {"datum": 3.64}, "y": {"datum": -3.07}}}
 ]
},
{
 "width": 220, "height": 161,
 "layer": [
  {"data": {"name": "dc"}, "mark": {"type": "line", "interpolate": "monotone", "color": "#6a6a6a", "strokeWidth": 3.5},
   "encoding": {
    "x": {"field": "f", "type": "quantitative", "scale": {"domain": [-0.557, 12.09], "nice": false, "zero": false}, "axis": {"values": [0, 5, 10], "title": "fₛ (GHz)"}},
    "y": {"field": "p", "type": "quantitative", "scale": {"domain": [-0.049, 1.205], "nice": false, "zero": false}, "axis": {"values": [0, 1], "format": "d", "title": "P(↑)/P(↓)"}}}},
  {"data": {"name": "dp"}, "mark": {"type": "rule", "strokeWidth": 3.5},
   "encoding": {"x": {"field": "f", "type": "quantitative", "axis": {"values": [0, 5, 10], "title": "fₛ (GHz)"}}, "y": {"field": "lo", "type": "quantitative", "axis": {"values": [0, 1], "format": "d", "title": "P(↑)/P(↓)"}}, "y2": {"field": "hi"},
    "color": {"field": "k", "type": "nominal", "scale": {"domain": ["o", "b", "g"], "range": ["#e6550d", "black", "#31a354"]}, "legend": null}}},
  {"data": {"name": "dp"}, "mark": {"type": "point", "filled": true, "opacity": 1, "size": 50},
   "encoding": {"x": {"field": "f", "type": "quantitative", "axis": {"values": [0, 5, 10], "title": "fₛ (GHz)"}}, "y": {"field": "p", "type": "quantitative", "axis": {"values": [0, 1], "format": "d", "title": "P(↑)/P(↓)"}},
    "color": {"field": "k", "type": "nominal", "legend": null}}},
  {"data": {"values": [{}]}, "mark": {"type": "text", "text": "(d)", "align": "left", "baseline": "middle"}, "encoding": {"x": {"datum": -0.27}, "y": {"datum": 1.07}}},
  {"data": {"values": [{}]}, "mark": {"type": "text", "text": "T", "align": "left", "baseline": "middle", "fontStyle": "italic", "color": "#707070"}, "encoding": {"x": {"datum": 3.47}, "y": {"datum": 0.753}}},
  {"data": {"values": [{}]}, "mark": {"type": "text", "text": "eff", "align": "left", "baseline": "middle", "fontSize": 15, "dx": 12, "dy": 6, "color": "#707070"}, "encoding": {"x": {"datum": 3.47}, "y": {"datum": 0.753}}},
  {"data": {"values": [{}]}, "mark": {"type": "text", "text": "= 100 mK", "align": "left", "baseline": "middle", "dx": 40, "color": "#707070"}, "encoding": {"x": {"datum": 3.47}, "y": {"datum": 0.753}}}
 ]
}
]
}
